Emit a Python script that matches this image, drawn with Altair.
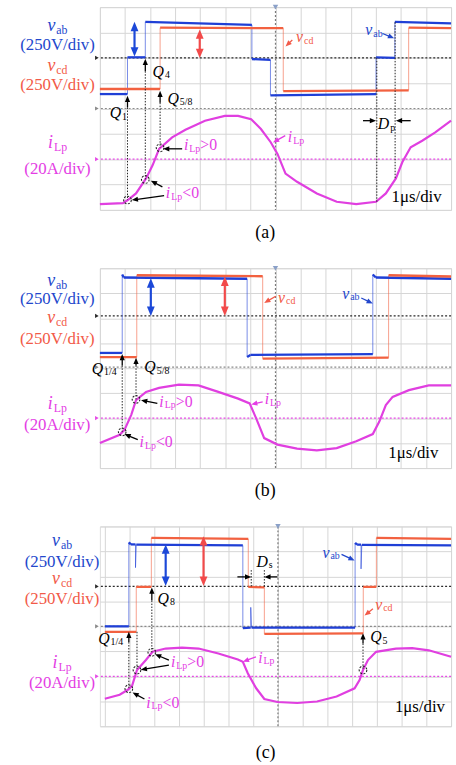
import math
import altair as alt
import pandas as pd

FONT = "Liberation Serif, Times New Roman, Times, serif"
TRACE = {"b": "#1f3fd6", "r": "#f26140", "m": "#e03fe0"}
INK = {"b": "#2347cc", "r": "#f25a48", "m": "#e43de4", "k": "#000000"}
REFC = {"k": "#2a2a2a", "g": "#8a8a8a", "m": "#e64ae6"}

GRID_X = list(range(0, 15))
GRID_Y = list(range(0, 9))

# ---------------- panel (a) ----------------
A_VAB_T = [0, 1.10, 1.10, 1.81, 1.81, 6.06, 6.06, 6.80, 6.80, 11.01, 11.01, 11.76, 11.76, 14]
A_VAB_V = [4.57, 4.57, 6.02, 6.02, 7.42, 7.30, 5.95, 5.92, 4.52, 4.57, 6.02, 6.00, 7.42, 7.36]
A_VCD_T = [0, 2.40, 2.40, 7.31, 7.31, 12.31, 12.31, 14]
A_VCD_V = [4.77, 4.77, 7.19, 7.17, 4.69, 4.72, 7.19, 7.17]
A_ILP_T = [0, 0.92, 1.11, 1.44, 1.84, 2.10, 2.36, 2.88, 3.41, 4.19, 4.98, 5.51, 6.03, 6.42, 6.81,
           7.08, 7.40, 7.86, 8.65, 9.44, 10.22, 11.01, 11.40, 11.80, 12.06, 12.39, 12.85, 13.37, 14.0]
A_ILP_V = [0.23, 0.27, 0.39, 0.65, 1.24, 1.76, 2.41, 2.86, 3.16, 3.52, 3.71, 3.71, 3.58, 3.19, 2.67,
           2.21, 1.43, 1.11, 0.65, 0.32, 0.23, 0.32, 0.65, 1.24, 1.89, 2.47, 2.73, 3.06, 3.52]
A_REF = [("k", 6.0), ("g", 4.0), ("m", 2.0)]
A_TEXT = [
    ([("i", "v"), ("s", "ab")], -1.69, 7.24, "b", 18, "center"),
    ([("r", "(250V/div)")], -1.69, 6.49, "b", 17, "center"),
    ([("i", "v"), ("s", "cd")], -1.69, 5.68, "r", 18, "center"),
    ([("r", "(250V/div)")], -1.69, 4.91, "r", 17, "center"),
    ([("i", "i"), ("s", "Lp")], -1.69, 2.63, "m", 18, "center"),
    ([("r", "(20A/div)")], -1.69, 1.63, "m", 17, "center"),
    ([("i", "Q"), ("s", "1")], 0.39, 3.81, "k", 16, "left"),
    ([("i", "Q"), ("s", "4")], 2.10, 5.44, "k", 16, "left"),
    ([("i", "Q"), ("s", "5/8")], 2.69, 4.38, "k", 16, "left"),
    ([("i", "i"), ("s", "Lp"), ("r", ">0")], 3.35, 2.54, "m", 16, "left"),
    ([("i", "i"), ("s", "Lp"), ("r", "<0")], 2.63, 0.65, "m", 16, "left"),
    ([("i", "i"), ("s", "Lp")], 7.49, 2.86, "m", 16, "left"),
    ([("i", "v"), ("s", "cd")], 7.82, 6.80, "r", 16, "left"),
    ([("i", "v"), ("s", "ab")], 10.58, 7.09, "b", 16, "left"),
    ([("i", "D"), ("s", "p")], 11.08, 3.38, "k", 16, "left"),
    ([("r", "1μs/div")], 11.63, 0.52, "k", 17, "left"),
    ([("r", "(a)")], 6.59, -0.90, "k", 18, "center"),
]
A_ARROWS = [
    (1.38, 6.05, 1.38, 7.42, "b", True),
    (3.98, 7.12, 3.98, 5.99, "r", True),
    (1.10, 4.04, 1.10, 4.50, "k", False),
    (1.81, 5.47, 1.81, 5.96, "k", False),
    (2.40, 4.23, 2.40, 4.70, "k", False),
    (3.28, 2.41, 2.52, 2.41, "k", False),
    (2.49, 0.91, 2.03, 1.15, "k", False),
    (2.56, 0.56, 1.27, 0.39, "k", False),
    (7.39, 2.93, 6.90, 2.66, "m", False),
    (7.67, 6.70, 7.40, 6.45, "r", False),
    (11.27, 6.96, 11.73, 6.77, "b", False),
    (10.49, 3.52, 11.01, 3.52, "k", False),
    (12.39, 3.52, 11.80, 3.52, "k", False),
]
A_DOTS = [(1.10, 4.04, 0.39), (1.81, 5.47, 1.20), (2.40, 4.23, 2.45), (11.04, 6.0, 0.30), (11.77, 7.4, 1.24)]
A_CX = [1.10, 1.81, 2.40]
A_CY = [0.39, 1.20, 2.45]

# ---------------- panel (b) ----------------
B_VAB_T = [0, 0.89, 0.89, 0.95, 5.87, 5.87, 6.0, 10.88, 10.88, 11.0, 14]
B_VAB_V = [4.61, 4.61, 7.75, 7.63, 7.58, 4.45, 4.53, 4.56, 7.75, 7.63, 7.58]
B_VCD_T = [0, 1.47, 1.47, 6.49, 6.49, 11.51, 11.51, 14]
B_VCD_V = [4.44, 4.44, 7.72, 7.68, 4.38, 4.42, 7.72, 7.67]
B_ILP_T = [0, 0.79, 0.98, 1.25, 1.44, 1.84, 2.36, 3.15, 3.93, 4.72, 5.51, 5.97, 6.23, 6.55, 7.08,
           7.86, 8.65, 9.44, 10.22, 10.88, 11.14, 11.40, 11.67, 12.32, 13.11, 14.0]
B_ILP_V = [1.00, 1.33, 1.53, 2.13, 2.72, 3.05, 3.21, 3.34, 3.31, 3.05, 2.78, 2.59, 1.99, 1.20, 0.94,
           0.78, 0.71, 0.80, 1.07, 1.36, 1.86, 2.52, 2.85, 3.12, 3.31, 3.31]
B_REF = [("k", 6.09), ("g", 4.04), ("m", 2.0)]
B_TEXT = [
    ([("i", "v"), ("s", "ab")], -1.70, 7.50, "b", 18, "center"),
    ([("r", "(250V/div)")], -1.70, 6.75, "b", 17, "center"),
    ([("i", "v"), ("s", "cd")], -1.70, 5.99, "r", 18, "center"),
    ([("r", "(250V/div)")], -1.70, 5.18, "r", 17, "center"),
    ([("i", "i"), ("s", "Lp")], -1.70, 2.55, "m", 18, "center"),
    ([("r", "(20A/div)")], -1.70, 1.74, "m", 17, "center"),
    ([("i", "Q"), ("s", "1/4")], -0.33, 3.97, "k", 16, "left"),
    ([("i", "Q"), ("s", "5/8")], 1.77, 4.04, "k", 16, "left"),
    ([("i", "i"), ("s", "Lp"), ("r", ">0")], 2.37, 2.65, "m", 16, "left"),
    ([("i", "i"), ("s", "Lp"), ("r", "<0")], 1.58, 1.04, "m", 16, "left"),
    ([("i", "i"), ("s", "Lp")], 6.57, 2.76, "m", 16, "left"),
    ([("i", "v"), ("s", "cd")], 7.10, 6.81, "r", 16, "left"),
    ([("i", "v"), ("s", "ab")], 9.66, 6.97, "b", 16, "left"),
    ([("r", "1μs/div")], 11.50, 0.61, "k", 17, "left"),
    ([("r", "(b)")], 6.59, -0.91, "k", 18, "center"),
]
B_ARROWS = [
    (2.03, 6.09, 2.03, 7.60, "b", True),
    (4.98, 7.67, 4.98, 6.09, "r", True),
    (0.89, 4.11, 0.89, 4.57, "k", False),
    (1.44, 4.11, 1.44, 4.42, "k", False),
    (2.29, 2.59, 1.64, 2.72, "k", False),
    (1.51, 1.14, 0.98, 1.36, "k", False),
    (6.49, 2.65, 6.03, 2.55, "m", False),
    (7.01, 6.88, 6.55, 6.61, "r", False),
    (10.42, 6.81, 10.88, 6.59, "b", False),
]
B_DOTS = [(0.89, 4.11, 1.45), (1.44, 4.11, 2.75)]
B_CX = [0.89, 1.44]
B_CY = [1.45, 2.75]

# ---------------- panel (c) ----------------
C_VAB_T = [0, 0.97, 0.97, 1.05, 1.24, 1.24, 1.27, 5.58, 5.58, 5.90, 5.90, 5.93, 10.12, 10.12,
           10.20, 10.36, 10.36, 10.39, 14]
C_VAB_V = [4.00, 4.00, 7.36, 7.28, 7.28, 6.35, 7.27, 7.24, 3.93, 3.95, 4.76, 3.95, 3.95, 7.34,
           7.27, 7.27, 6.30, 7.26, 7.24]
C_VCD_T = [0, 1.27, 1.27, 1.88, 1.88, 5.80, 5.80, 6.45, 6.45, 10.45, 10.45, 10.98, 10.98, 14]
C_VCD_V = [3.78, 3.78, 5.58, 5.58, 7.54, 7.50, 5.58, 5.56, 3.70, 3.72, 5.58, 5.58, 7.54, 7.50]
C_ILP_T = [0, 0.60, 0.93, 1.10, 1.30, 1.66, 1.93, 2.46, 3.12, 3.79, 4.59, 5.38, 5.58, 5.78, 6.12,
           6.45, 6.98, 7.78, 8.58, 9.37, 10.10, 10.30, 10.44, 10.64, 10.97, 11.77, 12.43, 13.10, 14.0]
C_ILP_V = [1.10, 1.26, 1.46, 1.62, 2.25, 2.65, 2.98, 3.11, 3.15, 3.11, 2.91, 2.67, 2.58, 2.12, 1.52,
           1.09, 0.97, 0.93, 0.99, 1.19, 1.52, 1.85, 2.25, 2.65, 2.98, 3.11, 3.13, 3.04, 2.78]
C_REF = [("k", 5.60), ("g", 4.0), ("m", 2.0)]
C_TEXT = [
    ([("i", "v"), ("s", "ab")], -1.73, 7.43, "b", 18, "center"),
    ([("r", "(250V/div)")], -1.73, 6.58, "b", 17, "center"),
    ([("i", "v"), ("s", "cd")], -1.73, 5.91, "r", 18, "center"),
    ([("r", "(250V/div)")], -1.73, 5.11, "r", 17, "center"),
    ([("i", "i"), ("s", "Lp")], -1.73, 2.54, "m", 18, "center"),
    ([("r", "(20A/div)")], -1.73, 1.74, "m", 17, "center"),
    ([("i", "Q"), ("s", "1/4")], -0.27, 3.51, "k", 16, "left"),
    ([("i", "Q"), ("s", "8")], 2.13, 5.10, "k", 16, "left"),
    ([("i", "Q"), ("s", "5")], 10.73, 3.57, "k", 16, "left"),
    ([("i", "i"), ("s", "Lp"), ("r", ">0")], 2.67, 2.56, "m", 16, "left"),
    ([("i", "i"), ("s", "Lp"), ("r", "<0")], 1.67, 0.93, "m", 16, "left"),
    ([("i", "i"), ("s", "Lp")], 6.20, 2.75, "m", 16, "left"),
    ([("i", "D"), ("s", "s")], 6.13, 6.58, "k", 16, "left"),
    ([("i", "v"), ("s", "cd")], 10.93, 4.86, "r", 16, "left"),
    ([("i", "v"), ("s", "ab")], 8.80, 6.94, "b", 16, "left"),
    ([("r", "1μs/div")], 11.73, 0.77, "k", 17, "left"),
    ([("r", "(c)")], 6.50, -1.08, "k", 18, "center"),
]
C_ARROWS = [
    (2.46, 5.62, 2.46, 7.28, "b", True),
    (3.99, 7.61, 3.99, 5.62, "r", True),
    (0.97, 3.37, 0.97, 3.78, "k", False),
    (1.90, 5.03, 1.90, 5.55, "k", False),
    (10.44, 3.31, 10.44, 3.72, "k", False),
    (2.59, 2.65, 2.03, 2.88, "k", False),
    (2.59, 2.45, 1.45, 2.26, "k", False),
    (1.60, 1.09, 1.12, 1.35, "k", False),
    (6.11, 2.78, 5.58, 2.58, "m", False),
    (5.36, 5.98, 5.92, 5.98, "k", False),
    (6.98, 5.98, 6.45, 5.98, "k", False),
    (10.84, 4.70, 10.50, 4.43, "r", False),
    (9.57, 6.88, 10.10, 6.64, "b", False),
]
C_DOTS = [(0.97, 3.37, 1.50), (1.30, 3.78, 2.25), (1.90, 5.03, 2.96), (10.44, 3.31, 2.25),
          (5.92, 6.25, 5.58), (6.45, 6.25, 5.56)]
C_CX = [0.97, 1.30, 1.90, 10.44]
C_CY = [1.50, 2.25, 2.96, 2.25]

PANELS = [
    dict(x0=0.0, h=205, vab=(A_VAB_T, A_VAB_V), vcd=(A_VCD_T, A_VCD_V), ilp=(A_ILP_T, A_ILP_V),
         ref=A_REF, text=A_TEXT, arrows=A_ARROWS, dots=A_DOTS, circ=(A_CX, A_CY), anchor=True),
    dict(x0=0.0, h=202, vab=(B_VAB_T, B_VAB_V), vcd=(B_VCD_T, B_VCD_V), ilp=(B_ILP_T, B_ILP_V),
         ref=B_REF, text=B_TEXT, arrows=B_ARROWS, dots=B_DOTS, circ=(B_CX, B_CY), anchor=False),
    dict(x0=-0.2, h=202, vab=(C_VAB_T, C_VAB_V), vcd=(C_VCD_T, C_VCD_V), ilp=(C_ILP_T, C_ILP_V),
         ref=C_REF, text=C_TEXT, arrows=C_ARROWS, dots=C_DOTS, circ=(C_CX, C_CY), anchor=False),
]
PANEL_W = 355
LEFT_MARGIN = 100

W_R = {"(": .333, ")": .333, "V": .722, "/": .278, "d": .5, "i": .278, "v": .5, "A": .722,
       "a": .444, "b": .5, "c": .444, "L": .611, "p": .5, ">": .564, "<": .564, "s": .389,
       "μ": .55, " ": .25}
W_I = {"v": .444, "i": .278, "Q": .722, "D": .722}
HEAD = "M0,0L-0.5,1.2L0.5,1.2Z"


def text_w(t, italic):
    tbl = W_I if italic else W_R
    return sum(tbl.get(c, W_R.get(c, 0.5)) for c in t)


def rich_rows(parts, x, y, ck, size, align, sx, sy):
    sub = round(size * 0.64)
    widths = []
    for k, t in parts:
        fs = sub if k == "s" else size
        widths.append(text_w(t, k == "i") * fs + (1.0 if k == "i" else 0.0))
    off = -sum(widths) / 2 if align == "center" else 0.0
    rows = []
    for (k, t), w in zip(parts, widths):
        fs = sub if k == "s" else size
        dy = size * 0.22 if k == "s" else 0.0
        rows.append(dict(x=x + off / sx, y=y - dy / sy, text=t, size=fs, color=INK[ck], it=(k == "i")))
        off += w
    return rows


def make_panel(P):
    x0, H = P["x0"], P["h"]
    sx = PANEL_W / (14 - x0)
    sy = H / 8.0
    xs = alt.Scale(domain=[x0, 14], nice=False, zero=False)
    ys = alt.Scale(domain=[0, 8], nice=False, zero=False)
    AX = alt.Axis(values=GRID_X, grid=True, labels=False, ticks=False, domain=False, title=None,
                  gridColor="#d6d6d6", gridWidth=1)
    AY = alt.Axis(values=GRID_Y, grid=True, labels=False, ticks=False, domain=False, title=None,
                  gridColor="#d6d6d6", gridWidth=1)

    def X(f="x"):
        return alt.X(f"{f}:Q", scale=xs, axis=AX, title=None)

    def Y(f="y"):
        return alt.Y(f"{f}:Q", scale=ys, axis=AY, title=None)

    layers = []

    # reference lines
    ref = pd.DataFrame([dict(y=v, color=REFC[k]) for k, v in P["ref"]])
    layers.append(alt.Chart(ref).mark_rule(strokeDash=[2, 2], strokeWidth=1.2).encode(
        y=Y(), color=alt.Color("color:N", scale=None)))
    refm = pd.DataFrame([dict(x=x0 - 0.12, y=v, color=REFC[k]) for k, v in P["ref"]])
    layers.append(alt.Chart(refm).mark_point(shape="triangle-right", filled=True, size=18, opacity=1).encode(
        x=X(), y=Y(), color=alt.Color("color:N", scale=None)))
    cen = pd.DataFrame({"x": [7.0]})
    layers.append(alt.Chart(cen).mark_rule(strokeDash=[2, 2], strokeWidth=1.2, color="#7a7a7a").encode(x=X()))
    cenm = pd.DataFrame({"x": [7.0], "y": [8.0]})
    layers.append(alt.Chart(cenm).mark_point(shape="triangle-down", filled=True, size=30, color="#8aa0c8",
                                             opacity=1).encode(x=X(), y=Y()))

    # iLp
    t, v = P["ilp"]
    il = pd.DataFrame({"x": t, "y": v, "o": list(range(len(t)))})
    layers.append(alt.Chart(il).mark_line(color=TRACE["m"], strokeWidth=2.2).encode(
        x=X(), y=Y(), order="o:Q"))

    # voltage traces as step segments
    lev, edg = [], []
    for key in ("vab", "vcd"):
        ts, vs = P[key]
        c = TRACE["b"] if key == "vab" else TRACE["r"]
        for i in range(len(ts) - 1):
            r = dict(x=ts[i], y=vs[i], x2=ts[i + 1], y2=vs[i + 1], color=c)
            (edg if abs(ts[i + 1] - ts[i]) < 0.05 else lev).append(r)
    edf = pd.DataFrame(edg)
    layers.append(alt.Chart(edf).mark_rule(strokeWidth=1.0, opacity=0.6).encode(
        x=X(), y=Y(), x2="x2:Q", y2="y2:Q", color=alt.Color("color:N", scale=None)))
    ldf = pd.DataFrame(lev)
    layers.append(alt.Chart(ldf).mark_rule(strokeWidth=2.3).encode(
        x=X(), y=Y(), x2="x2:Q", y2="y2:Q", color=alt.Color("color:N", scale=None)))

    # dotted guide lines
    dd = pd.DataFrame([dict(x=a, y=b, y2=c) for a, b, c in P["dots"]])
    layers.append(alt.Chart(dd).mark_rule(strokeDash=[1.5, 1.5], strokeWidth=1.0, color="#222222").encode(
        x=X(), y=Y(), y2="y2:Q"))

    # dashed circles
    cx, cy = P["circ"]
    cd = pd.DataFrame({"x": cx, "y": cy})
    layers.append(alt.Chart(cd).mark_point(shape="circle", filled=False, size=60, strokeWidth=1.1,
                                           strokeDash=[2, 1.5], color="#222222", opacity=1).encode(x=X(), y=Y()))

    # arrows
    lines, heads = [], []
    for x1, y1, x2, y2, ck, dbl in P["arrows"]:
        c = INK[ck] if ck != "k" else "#000000"
        if dbl:
            c = {"b": "#1c48d8", "r": "#f24a4a"}[ck]
        sz = 250 if dbl else 110
        sw = 2.2 if dbl else 1.3
        L = 0.6 * math.sqrt(sz) * 0.6
        dxp, dyp = (x2 - x1) * sx, -(y2 - y1) * sy
        n = math.hypot(dxp, dyp)
        ux, uy = dxp / n, dyp / n
        ang = math.degrees(math.atan2(dxp, -dyp)) % 360
        ex, ey = x2 - ux * L / sx, y2 + uy * L / sy
        bx, by = x1, y1
        if dbl:
            bx, by = x1 + ux * L / sx, y1 - uy * L / sy
            heads.append(dict(x=x1, y=y1, ang=(ang + 180) % 360, color=c, sz=sz))
        lines.append(dict(x=bx, y=by, x2=ex, y2=ey, color=c, sw=sw))
        heads.append(dict(x=x2, y=y2, ang=ang, color=c, sz=sz))
    adf = pd.DataFrame(lines)
    layers.append(alt.Chart(adf).mark_rule().encode(
        x=X(), y=Y(), x2="x2:Q", y2="y2:Q", color=alt.Color("color:N", scale=None),
        strokeWidth=alt.StrokeWidth("sw:Q", scale=None)))
    hdf = pd.DataFrame(heads)
    layers.append(alt.Chart(hdf).mark_point(shape=HEAD, filled=True, strokeWidth=0, opacity=1).encode(
        x=X(), y=Y(), angle=alt.Angle("ang:Q", scale=None), color=alt.Color("color:N", scale=None),
        size=alt.Size("sz:Q", scale=None)))

    # texts
    rows = []
    for parts, x, y, ck, size, align in P["text"]:
        rows += rich_rows(parts, x, y, ck, size, align, sx, sy)
    tdf = pd.DataFrame(rows)
    for italic in (False, True):
        sub = tdf[tdf["it"] == italic].drop(columns=["it"])
        layers.append(alt.Chart(sub).mark_text(font=FONT, align="left", baseline="middle",
                                               fontStyle="italic" if italic else "normal").encode(
            x=X(), y=Y(), text="text:N", size=alt.Size("size:Q", scale=None),
            color=alt.Color("color:N", scale=None)))

    if P["anchor"]:
        an = pd.DataFrame({"x": [x0 - LEFT_MARGIN / sx], "y": [0.0], "y2": [1.0]})
        layers.append(alt.Chart(an).mark_rule(opacity=0, strokeOpacity=0).encode(x=X(), y=Y(), y2="y2:Q"))

    return alt.layer(*layers).properties(width=PANEL_W, height=H)


chart = alt.vconcat(*[make_panel(P) for P in PANELS], spacing=59, bounds="flush").properties(
    padding=0, background="white"
).configure_view(strokeWidth=0).configure(font=FONT)

chart.save("out.html", embed_options={"renderer": "svg", "actions": False})
